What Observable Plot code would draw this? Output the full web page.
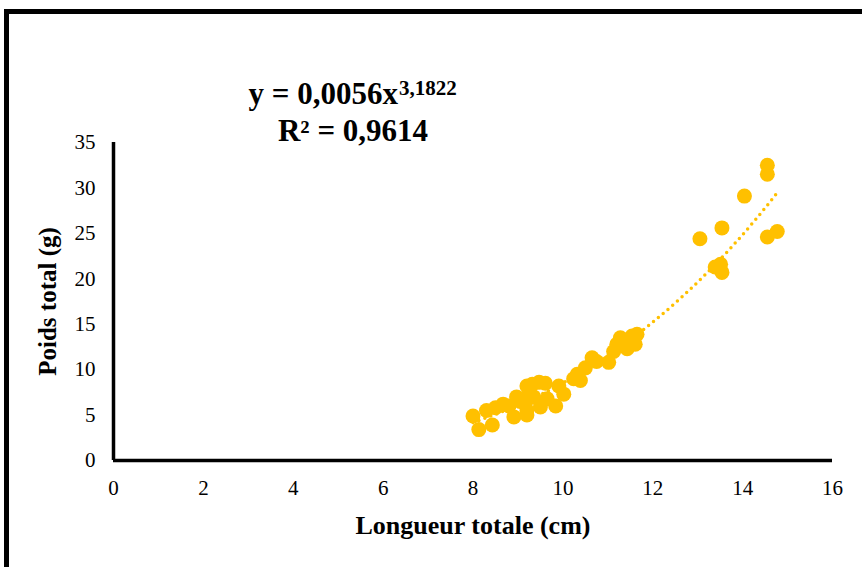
<!DOCTYPE html>
<html>
<head>
<meta charset="utf-8">
<script src="https://cdn.jsdelivr.net/npm/d3@7"></script>
<script src="https://cdn.jsdelivr.net/npm/@observablehq/plot@0.6"></script>
<style>
  html, body { margin: 0; padding: 0; background: #fff; }
  #wrap { position: relative; width: 862px; height: 567px; overflow: hidden; }
  #frame { position: absolute; left: 4px; top: 9px; width: 900px; height: 553px;
           border-left: 5px solid #000; border-top: 5px solid #000; border-bottom: 1px solid #777;
           pointer-events: none; }
  svg { position: absolute; left: 0; top: 0; }
</style>
</head>
<body>
<div id="wrap"><div id="frame"></div></div>
<script>
const lengths = [8.0, 8.13, 8.3, 8.43, 8.5, 8.67, 8.8, 8.91, 8.97, 9.05, 9.17, 9.2, 9.2, 9.25, 9.2, 9.32, 9.35, 9.47, 9.5, 9.61, 9.65, 9.84, 9.91, 10.02, 10.24, 10.32, 10.39, 10.5, 10.65, 10.75, 11.02, 11.13, 11.2, 11.28, 11.43, 11.46, 11.54, 11.61, 11.65, 13.05, 13.54, 13.39, 13.51, 13.54, 14.04, 14.55, 14.55, 14.55, 14.77];
const weights = [4.9, 3.4, 5.5, 3.9, 5.8, 6.2, 6.0, 4.8, 7.0, 6.5, 6.4, 5.0, 5.5, 7.3, 8.2, 8.4, 7.0, 8.6, 5.9, 8.5, 6.8, 6.0, 8.2, 7.3, 9.0, 9.5, 8.8, 10.2, 11.3, 10.9, 10.8, 12.0, 12.8, 13.5, 12.3, 13.2, 13.7, 12.8, 13.9, 24.4, 25.6, 21.3, 21.6, 20.7, 29.1, 32.5, 31.5, 24.6, 25.2];
const xTicks = [0, 2, 4, 6, 8, 10, 12, 14, 16];
const yTicks = [0, 5, 10, 15, 20, 25, 30, 35];
const coefA = 0.0056;
const coefB = 3.1822;
const eqMain = "y = 0,0056x";
const eqExp = "3,1822";
const r2Text = "R² = 0,9614";
const xLabel = "Longueur totale (cm)";
const yLabel = "Poids total (g)";

const pts = lengths.map((x, i) => ({x, y: weights[i]}));
const xmin = d3.min(lengths), xmax = d3.max(lengths);
const trend = d3.range(0, 101).map(i => {
  const x = xmin + (xmax - xmin) * i / 100;
  return {x, y: coefA * Math.pow(x, coefB)};
});

const col = "#FFC000";
const serif = "Liberation Serif, Times New Roman, serif";

const chart = Plot.plot({
  width: 862, height: 567,
  marginLeft: 113, marginRight: 30, marginTop: 142, marginBottom: 107,
  x: {domain: [0, 16]},
  y: {domain: [0, 35]},
  style: {fontFamily: serif, fontSize: "21px", color: "#000", background: "transparent"},
  marks: [
    Plot.axisX(xTicks, {tickSize: 0, tickPadding: 20, label: null, fontSize: 21}),
    Plot.axisY(yTicks, {tickSize: 0, tickPadding: 18, label: null, fontSize: 21}),
    Plot.dot(pts, {x: "x", y: "y", r: 7.5, fill: col, stroke: "none"}),
    Plot.line(trend, {x: "x", y: "y", stroke: col, strokeWidth: 3.5, strokeDasharray: "0,6.3", strokeLinecap: "round"}),
    Plot.ruleY([0], {stroke: "#000", strokeWidth: 3.5}),
    Plot.ruleX([0], {stroke: "#000", strokeWidth: 3.5}),
    Plot.text([xLabel], {frameAnchor: "bottom", dy: 65, textAnchor: "middle", lineAnchor: "middle", fontWeight: "bold", fontSize: 26, fontFamily: serif}),
    Plot.text([yLabel], {frameAnchor: "left", dx: -66, rotate: -90, textAnchor: "middle", lineAnchor: "middle", fontWeight: "bold", fontSize: 25, fontFamily: serif}),
    Plot.text([eqMain], {frameAnchor: "top", dx: -75, dy: -48, textAnchor: "end", lineAnchor: "middle", fontWeight: "bold", fontSize: 31, fontFamily: serif}),
    Plot.text([eqExp], {frameAnchor: "top", dx: -74, dy: -54, textAnchor: "start", lineAnchor: "middle", fontWeight: "bold", fontSize: 21, fontFamily: serif}),
    Plot.text([r2Text], {frameAnchor: "top", dx: -120, dy: -11, textAnchor: "middle", lineAnchor: "middle", fontWeight: "bold", fontSize: 31, fontFamily: serif})
  ]
});
document.getElementById("wrap").insertBefore(chart, document.getElementById("frame"));
</script>
</body>
</html>
